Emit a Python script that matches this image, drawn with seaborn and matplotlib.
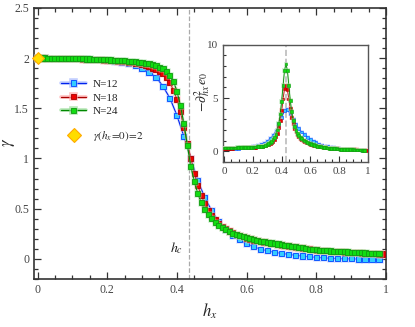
import numpy as np
import pandas as pd
import matplotlib
matplotlib.use("Agg")
import matplotlib.pyplot as plt
import matplotlib.patheffects as pe
from matplotlib.lines import Line2D
from matplotlib.ticker import MultipleLocator
import seaborn as sns

# ---------------- data ----------------
h12 = [round(0.02 * i, 2) for i in range(50)]          # 0.00 .. 0.98
h18 = [round(0.01 * i, 2) for i in range(100)]         # 0.00 .. 0.99
h24 = [round(0.01 * i, 2) for i in range(99)]          # 0.00 .. 0.98

gamma12 = [2.000, 2.000, 1.999, 1.998, 1.997, 1.995, 1.993, 1.990, 1.987, 1.982,
           1.975, 1.968, 1.958, 1.945, 1.925, 1.895, 1.860, 1.810, 1.720, 1.600,
           1.430, 1.220, 1.000, 0.780, 0.610, 0.480, 0.370, 0.290, 0.235, 0.190,
           0.150, 0.120, 0.097, 0.080, 0.065, 0.055, 0.045, 0.036, 0.028, 0.020,
           0.015, 0.010, 0.006, 0.003, 0.001, 0.000, -0.002, -0.004, -0.005, -0.006]

gamma18 = [2.000, 2.000, 2.000, 1.999, 1.999, 1.998, 1.997, 1.997, 1.996, 1.995,
           1.994, 1.993, 1.992, 1.990, 1.989, 1.987, 1.986, 1.984, 1.982, 1.980,
           1.978, 1.975, 1.972, 1.969, 1.966, 1.962, 1.958, 1.953, 1.948, 1.942,
           1.935, 1.925, 1.913, 1.900, 1.887, 1.870, 1.845, 1.810, 1.755, 1.680,
           1.590, 1.470, 1.310, 1.150, 1.000, 0.850, 0.730, 0.630, 0.550, 0.480,
           0.430, 0.390, 0.355, 0.325, 0.300, 0.278, 0.260, 0.245, 0.232, 0.220,
           0.208, 0.198, 0.188, 0.181, 0.174, 0.168, 0.162, 0.156, 0.151, 0.146,
           0.138, 0.133, 0.128, 0.123, 0.118, 0.113, 0.108, 0.103, 0.099, 0.094,
           0.088, 0.085, 0.082, 0.079, 0.076, 0.074, 0.072, 0.070, 0.068, 0.066,
           0.064, 0.062, 0.060, 0.058, 0.056, 0.054, 0.052, 0.050, 0.049, 0.048]

gamma24 = [2.000, 2.000, 2.000, 1.999, 1.999, 1.998, 1.998, 1.997, 1.997, 1.996,
           1.995, 1.994, 1.993, 1.992, 1.991, 1.990, 1.989, 1.988, 1.986, 1.985,
           1.983, 1.981, 1.979, 1.977, 1.975, 1.972, 1.969, 1.966, 1.962, 1.958,
           1.953, 1.948, 1.942, 1.935, 1.925, 1.910, 1.895, 1.870, 1.830, 1.770,
           1.670, 1.530, 1.350, 1.130, 0.920, 0.770, 0.650, 0.560, 0.490, 0.440,
           0.400, 0.365, 0.335, 0.310, 0.290, 0.270, 0.255, 0.240, 0.230, 0.220,
           0.210, 0.200, 0.190, 0.183, 0.176, 0.170, 0.164, 0.158, 0.153, 0.148,
           0.140, 0.135, 0.130, 0.125, 0.120, 0.115, 0.110, 0.105, 0.097, 0.093,
           0.090, 0.087, 0.084, 0.081, 0.078, 0.076, 0.074, 0.072, 0.070, 0.068,
           0.066, 0.064, 0.062, 0.060, 0.058, 0.056, 0.054, 0.052, 0.050]

# inset: -d^2 e0 / d hx^2
chi12 = [0.25, 0.25, 0.26, 0.27, 0.28, 0.29, 0.30, 0.32, 0.34, 0.37,
         0.42, 0.48, 0.55, 0.65, 0.78, 0.95, 1.20, 1.50, 1.90, 2.50,
         3.20, 3.80, 3.90, 3.50, 3.00, 2.50, 2.10, 1.80, 1.55, 1.32,
         1.12, 0.95, 0.80, 0.68, 0.58, 0.50, 0.43, 0.37, 0.32, 0.28,
         0.24, 0.21, 0.19, 0.17, 0.15, 0.13, 0.12, 0.11, 0.10, 0.09]

chi18 = [0.28, 0.28, 0.28, 0.29, 0.29, 0.29, 0.29, 0.30, 0.30, 0.30,
         0.31, 0.31, 0.31, 0.32, 0.32, 0.33, 0.33, 0.34, 0.35, 0.35,
         0.36, 0.37, 0.38, 0.39, 0.40, 0.42, 0.44, 0.46, 0.49, 0.53,
         0.58, 0.64, 0.72, 0.82, 0.95, 1.12, 1.35, 1.70, 2.20, 2.90,
         3.80, 4.90, 5.90, 6.20, 5.80, 4.90, 4.00, 3.20, 2.60, 2.15,
         1.80, 1.55, 1.36, 1.21, 1.09, 0.99, 0.90, 0.83, 0.77, 0.71,
         0.66, 0.61, 0.57, 0.53, 0.50, 0.47, 0.44, 0.41, 0.39, 0.37,
         0.35, 0.33, 0.31, 0.30, 0.28, 0.27, 0.26, 0.24, 0.23, 0.22,
         0.21, 0.20, 0.19, 0.18, 0.175, 0.17, 0.16, 0.155, 0.15, 0.145,
         0.14, 0.135, 0.13, 0.125, 0.12, 0.115, 0.11, 0.105, 0.10, 0.10]

chi24 = [0.30, 0.30, 0.30, 0.30, 0.30, 0.31, 0.31, 0.31, 0.31, 0.32,
         0.32, 0.32, 0.33, 0.33, 0.33, 0.34, 0.34, 0.35, 0.35, 0.36,
         0.38, 0.39, 0.40, 0.41, 0.42, 0.43, 0.45, 0.47, 0.49, 0.55,
         0.62, 0.70, 0.80, 0.92, 1.08, 1.30, 1.60, 2.00, 2.60, 3.50,
         4.70, 6.20, 7.60, 8.20, 7.60, 6.20, 4.80, 3.70, 2.90, 2.35,
         1.95, 1.65, 1.45, 1.30, 1.17, 1.06, 0.97, 0.89, 0.82, 0.76,
         0.70, 0.65, 0.60, 0.56, 0.52, 0.48, 0.45, 0.42, 0.39, 0.37,
         0.35, 0.33, 0.31, 0.29, 0.28, 0.26, 0.25, 0.24, 0.22, 0.21,
         0.20, 0.19, 0.18, 0.17, 0.165, 0.16, 0.15, 0.145, 0.14, 0.135,
         0.13, 0.125, 0.12, 0.115, 0.11, 0.105, 0.10, 0.097, 0.094]

h_c = 0.434
gamma0 = 2.0
labels = ["N=12", "N=18", "N=24"]

# ---------------- style ----------------
sns.set_style("ticks")
plt.rcParams["font.family"] = ["Liberation Serif", "DejaVu Serif"]
plt.rcParams["mathtext.fontset"] = "stix"

fig = plt.figure(figsize=(4.15, 3.27), dpi=100)
ax = fig.add_axes([0.082, 0.147, 0.848, 0.829])
axin = fig.add_axes([0.537, 0.505, 0.349, 0.358])

styles = [
    dict(color="#0022ee", mfc="#33ccff", mec="#0044ff", halo="#aabbff"),
    dict(color="#aa0000", mfc="#ee0000", mec="#aa0000", halo="#ffaaaa"),
    dict(color="#008800", mfc="#11dd11", mec="#119911", halo="#99dd99"),
]
main_data = [(h12, gamma12), (h18, gamma18), (h24, gamma24)]
inset_data = [(h12, chi12), (h18, chi18), (h24, chi24)]

spine_col = "#333333"
tick_col = "#444444"

# vertical critical lines
ax.axvline(h_c, color="#aaaaaa", ls="--", lw=0.9, zorder=1)
axin.axvline(0.43, color="#bbbbbb", ls="--", lw=1.2, zorder=1)

handles = []
for (hx, gy), st, lab in zip(main_data, styles, labels):
    df = pd.DataFrame({"hx": hx, "y": gy})
    sns.lineplot(data=df, x="hx", y="y", ax=ax, color=st["color"], lw=0.8,
                 marker="s", markersize=3.7, markerfacecolor=st["mfc"],
                 markeredgecolor=st["mec"], markeredgewidth=0.6,
                 path_effects=[pe.Stroke(linewidth=1.8, foreground=st["halo"], alpha=0.45),
                               pe.Normal()],
                 zorder=3, legend=False)
    handles.append(Line2D([], [], color=st["color"], lw=0.9, marker="s",
                          markersize=4.0, markerfacecolor=st["mfc"],
                          markeredgecolor=st["mec"], markeredgewidth=0.6,
                          path_effects=[pe.Stroke(linewidth=2.6, foreground=st["halo"], alpha=0.7),
                                        pe.Normal()]))

for (hx, cy), st in zip(inset_data, styles):
    df = pd.DataFrame({"hx": hx, "y": cy})
    sns.lineplot(data=df, x="hx", y="y", ax=axin, color=st["color"], lw=0.6,
                 marker="s", markersize=2.0, markerfacecolor=st["mfc"],
                 markeredgecolor=st["mec"], markeredgewidth=0.4,
                 path_effects=[pe.Stroke(linewidth=1.4, foreground=st["halo"], alpha=0.4),
                               pe.Normal()],
                 zorder=3, legend=False)

# yellow diamond gamma(0)=2
sns.scatterplot(x=[0.0], y=[gamma0], ax=ax, marker="D", s=36, color="#ffdd00",
                edgecolor="#ffaa00", linewidth=0.8, zorder=5, legend=False, clip_on=False)

leg1 = ax.legend(handles, labels, loc="upper left", bbox_to_anchor=(0.077, 0.737),
                 frameon=False, fontsize=8, handlelength=2.2, handletextpad=0.6,
                 labelspacing=0.35, borderpad=0.0, borderaxespad=0.0)
ax.add_artist(leg1)
dia = Line2D([], [], ls="none", marker="D", markersize=7, markerfacecolor="#ffdd00",
             markeredgecolor="#ffaa00", markeredgewidth=0.8)
ax.legend([dia], [r"$\gamma(h_x\!=\!0)\!=\!2$"], loc="upper left",
          bbox_to_anchor=(0.091, 0.553), frameon=False, fontsize=8,
          handlelength=1.5, handletextpad=0.9, borderpad=0.0, borderaxespad=0.0)

ax.text(0.40, 0.03, r"$h_c$", fontsize=10, ha="center", va="bottom", color="#222222")

# main axes limits / ticks
ax.set_xlim(-0.01, 1.0)
ax.set_ylim(-0.2, 2.5)
ax.xaxis.set_minor_locator(MultipleLocator(0.05))
ax.yaxis.set_minor_locator(MultipleLocator(0.1))
ax.set_xticks([0, 0.2, 0.4, 0.6, 0.8, 1.0])
ax.set_xticklabels(["0", "0.2", "0.4", "0.6", "0.8", "1"])
ax.set_yticks([0, 0.5, 1, 1.5, 2, 2.5])
ax.set_yticklabels(["0", "0.5", "1", "1.5", "2", "2.5"])
ax.tick_params(which="both", direction="in", top=True, right=True, colors=spine_col,
               labelcolor=tick_col, labelsize=8.5, width=0.9)
ax.tick_params(which="major", length=5)
ax.tick_params(which="minor", length=3)
ax.set_xlabel(r"$h_x$", fontsize=12, labelpad=4)
ax.set_ylabel(r"$\gamma$", fontsize=12, va="center", ha="center",
              rotation_mode="default")
ax.yaxis.set_label_coords(-0.07, 0.505)
for s in ax.spines.values():
    s.set_color(spine_col)
    s.set_linewidth(1.2)

# inset limits / ticks
axin.set_xlim(-0.01, 1.0)
axin.set_ylim(-1, 10)
axin.set_xticks([0, 0.2, 0.4, 0.6, 0.8, 1.0])
axin.set_xticklabels(["0", "0.2", "0.4", "0.6", "0.8", "1"])
axin.set_yticks([0, 5, 10])
axin.xaxis.set_minor_locator(MultipleLocator(0.05))
axin.yaxis.set_minor_locator(MultipleLocator(1))
axin.tick_params(which="both", direction="in", colors=spine_col, labelcolor=tick_col,
                 labelsize=8, width=0.8)
axin.tick_params(which="major", length=4)
axin.tick_params(which="minor", length=2.5)
axin.set_xlabel("")
axin.set_ylabel(r"$-\partial^{2}_{hx}\,e_0$", fontsize=10, va="center", ha="center",
                rotation_mode="default")
axin.yaxis.set_label_coords(-0.14, 0.6)
for s in axin.spines.values():
    s.set_color("#555555")
    s.set_linewidth(1.0)

fig.savefig("out.png", dpi=100)
